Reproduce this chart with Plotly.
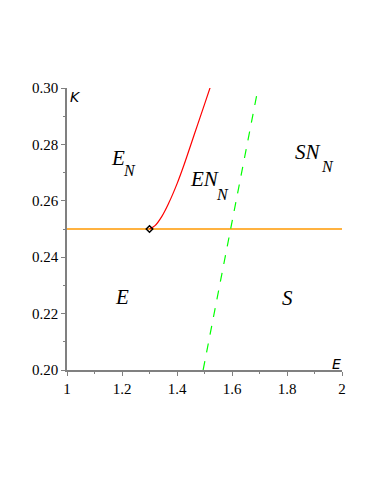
import plotly.graph_objects as go

# curve data
red_E = [1.300, 1.320, 1.345, 1.370, 1.400, 1.425, 1.450, 1.475, 1.500, 1.521]
red_K = [0.2500, 0.2512, 0.2545, 0.2592, 0.2660, 0.2726, 0.2798, 0.2870, 0.2942, 0.3003]
green_E = [1.495, 1.695]
green_K = [0.20, 0.30]
orange_E = [1.0, 2.0]
orange_K = [0.25, 0.25]
point_E = [1.30]
point_K = [0.25]

x_ticks = [1, 1.2, 1.4, 1.6, 1.8, 2]
x_ticklabels = ["1", "1.2", "1.4", "1.6", "1.8", "2"]
y_ticks = [0.20, 0.22, 0.24, 0.26, 0.28, 0.30]
y_ticklabels = ["0.20", "0.22", "0.24", "0.26", "0.28", "0.30"]

# region labels: main text, subscript
region_main = ["E", "EN", "SN", "E", "S"]
region_sub = ["N", "N", "N", "", ""]
main_pos = [(1.1865, 0.2752), (1.4993, 0.2679), (1.8775, 0.2773), (1.1993, 0.2259), (1.801, 0.2254)]
sub_pos = [(1.2265, 0.2707), (1.5665, 0.2622), (1.9484, 0.2720), None, None]

fig = go.Figure()
fig.add_trace(go.Scatter(x=orange_E, y=orange_K, mode="lines",
                         line=dict(color="#FF9900", width=1.4)))
fig.add_trace(go.Scatter(x=green_E, y=green_K, mode="lines",
                         line=dict(color="#00FF00", width=1.2, dash="dash")))
fig.add_trace(go.Scatter(x=red_E, y=red_K, mode="lines", line_shape="spline",
                         line=dict(color="#FF0000", width=1.2)))
fig.add_trace(go.Scatter(x=point_E, y=point_K, mode="markers",
                         marker=dict(symbol="diamond-open", size=5, color="black",
                                     line=dict(width=1.5, color="black"))))

serif = "Times New Roman, Liberation Serif, serif"
for txt, sub, p, sp in zip(region_main, region_sub, main_pos, sub_pos):
    fig.add_annotation(x=p[0], y=p[1], text="<i>" + txt + "</i>", showarrow=False,
                       font=dict(family=serif, size=21, color="black"))
    if sub:
        fig.add_annotation(x=sp[0], y=sp[1], text="<i>" + sub + "</i>", showarrow=False,
                           font=dict(family=serif, size=16, color="black"))

# axis names sit inside the frame, like the original
fig.add_annotation(xref="paper", yref="paper", x=0.005, y=1.003, text="<i>K</i>",
                   showarrow=False, font=dict(family="DejaVu Sans", size=14, color="black"))
fig.add_annotation(xref="paper", yref="paper", x=1.004, y=-0.014, text="<i>E</i>",
                   showarrow=False, font=dict(family="DejaVu Sans", size=14, color="black"))

axis_style = dict(showgrid=False, zeroline=False, showline=True, linecolor="#808080",
                  linewidth=1.5, ticks="outside", ticklen=4, tickcolor="#808080",
                  tickfont=dict(family=serif, size=15, color="black"),
                  minor=dict(ticks="outside", ticklen=2, tickcolor="#808080"))

fig.update_xaxes(range=[1, 2], tickvals=x_ticks, ticktext=x_ticklabels,
                 minor_dtick=0.1, **axis_style)
fig.update_yaxes(range=[0.2, 0.3], tickvals=y_ticks, ticktext=y_ticklabels,
                 minor_dtick=0.01, **axis_style)
fig.update_layout(width=374, height=484, showlegend=False,
                  plot_bgcolor="white", paper_bgcolor="white",
                  margin=dict(l=59, r=40, t=80, b=122))

fig.write_html("out.html")
